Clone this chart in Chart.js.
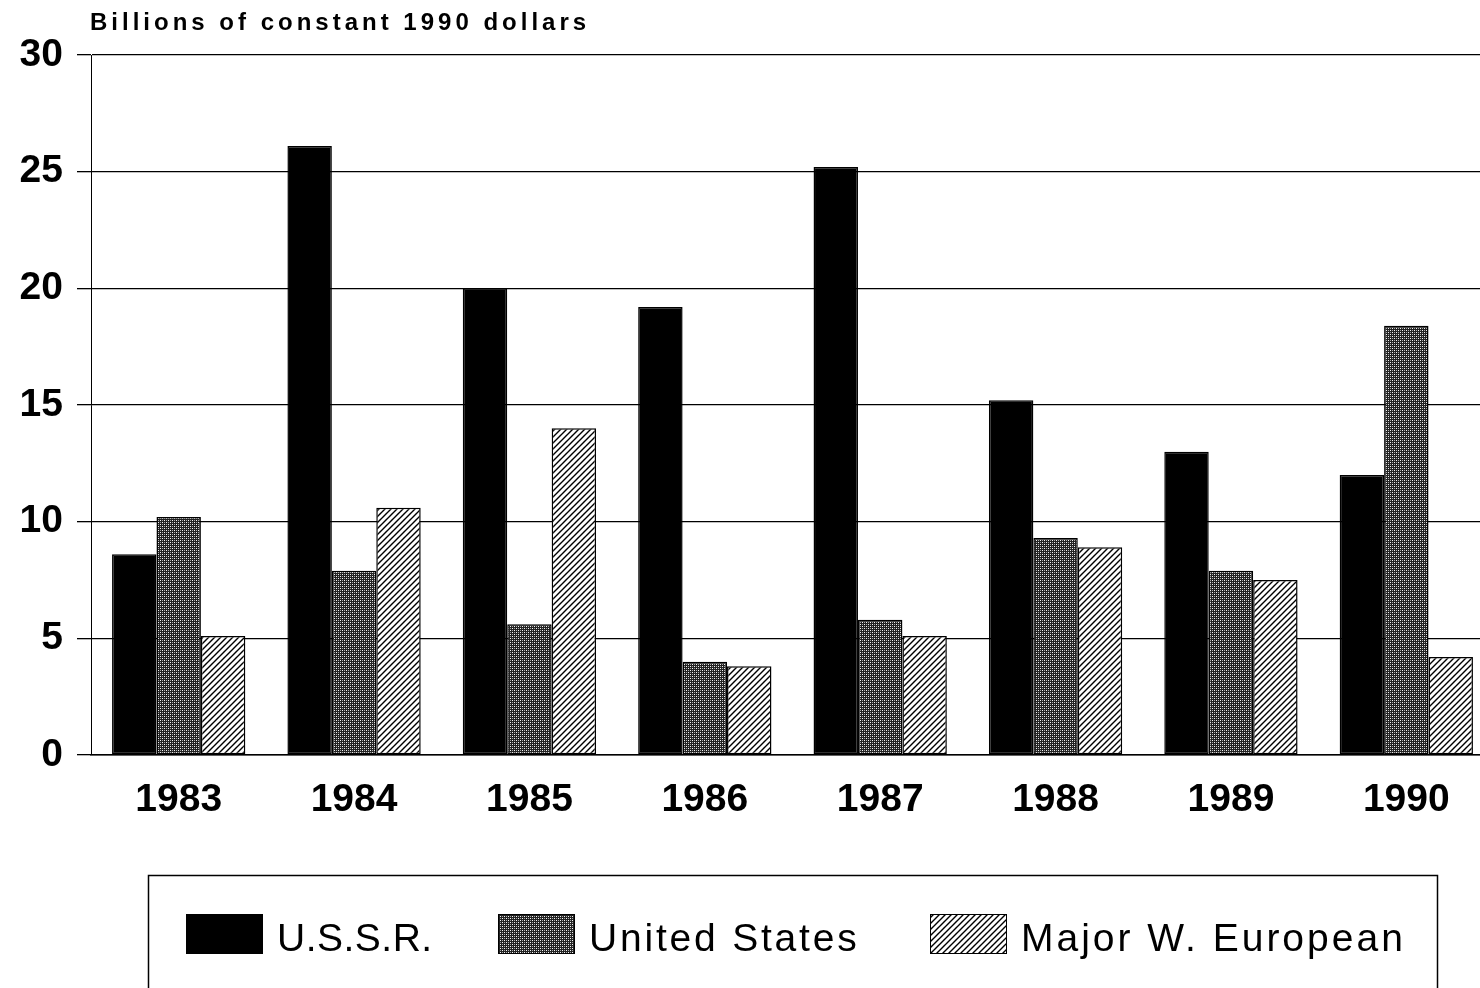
<!DOCTYPE html>
<html>
<head>
<meta charset="utf-8">
<script src="https://cdn.jsdelivr.net/npm/chart.js@4.4.1/dist/chart.umd.min.js"></script>
<style>
  html, body { margin: 0; padding: 0; background: #fff; overflow: hidden; }
  #wrap { width: 1480px; height: 988px; overflow: hidden; }
</style>
</head>
<body>
<div id="wrap"><canvas id="armsChart" width="1494" height="988"></canvas></div>
<script>
// chart data
var years = ['1983', '1984', '1985', '1986', '1987', '1988', '1989', '1990'];
var ussr = [8.6, 26.1, 20.0, 19.2, 25.2, 15.2, 13.0, 12.0];
var unitedStates = [10.2, 7.9, 5.6, 4.0, 5.8, 9.3, 7.9, 18.4];
var westEurope = [5.1, 10.6, 14.0, 3.8, 5.1, 8.9, 7.5, 4.2];
var seriesNames = ['U.S.S.R.', 'United States', 'Major W. European'];
var yTicks = [0, 5, 10, 15, 20, 25, 30];

// dotted fill for the US bars
function dotPattern() {
    var c = document.createElement('canvas');
    c.width = 4; c.height = 4;
    var g = c.getContext('2d');
    g.fillStyle = '#222';
    g.fillRect(0, 0, 4, 4);
    g.fillStyle = '#f4f4f4';
    g.fillRect(0, 0, 1, 1);
    g.fillRect(2, 2, 1, 1);
    g.fillStyle = '#aaa';
    g.fillRect(2, 0, 1, 1);
    g.fillRect(0, 2, 1, 1);
    return g.createPattern(c, 'repeat');
}

// diagonal hatching for Western Europe
function hatchPattern() {
    var s = 6;
    var c = document.createElement('canvas');
    c.width = s; c.height = s;
    var g = c.getContext('2d');
    g.fillStyle = '#fff';
    g.fillRect(0, 0, s, s);
    g.strokeStyle = '#000';
    g.lineWidth = 1.4;
    g.beginPath();
    g.moveTo(0, s); g.lineTo(s, 0);
    g.moveTo(-1, 1); g.lineTo(1, -1);
    g.moveTo(s - 1, s + 1); g.lineTo(s + 1, s - 1);
    g.stroke();
    return g.createPattern(c, 'repeat');
}

var fills = ['#000', dotPattern(), hatchPattern()];

// title above the plot
var titlePlugin = {
    id: 'topTitle',
    afterDraw: function (chart) {
        var ctx = chart.ctx;
        ctx.save();
        ctx.fillStyle = '#000';
        ctx.font = 'bold 24px "Liberation Sans", Arial, sans-serif';
        ctx.letterSpacing = '4px';
        ctx.textBaseline = 'middle';
        ctx.fillText('Billions of constant 1990 dollars', 90, 23);
        ctx.restore();
    }
};

// framed legend under the x labels
var legendBox = {
    id: 'legendBox',
    afterDraw: function (chart) {
        var ctx = chart.ctx;
        var swatchX = [186, 498, 930];
        var spacing = ['0.5px', '2.8px', '3px'];
        ctx.save();
        ctx.strokeStyle = '#000';
        ctx.lineWidth = 1.5;
        ctx.strokeRect(148.5, 875.5, 1289, 140);
        ctx.font = '39px "Liberation Sans", Arial, sans-serif';
        ctx.textBaseline = 'middle';
        chart.data.datasets.forEach(function (ds, i) {
            ctx.fillStyle = ds.backgroundColor;
            ctx.fillRect(swatchX[i], 914, 77, 40);
            ctx.lineWidth = 1;
            ctx.strokeRect(swatchX[i] + 0.5, 914.5, 76, 39);
            ctx.fillStyle = '#000';
            ctx.letterSpacing = spacing[i];
            ctx.fillText(ds.label, swatchX[i] + 91, 940);
        });
        ctx.restore();
    }
};

var ctx = document.getElementById('armsChart').getContext('2d');
var armsChart = new Chart(ctx, {
    type: 'bar',
    data: {
        labels: years,
        datasets: [
            { label: seriesNames[0], data: ussr, backgroundColor: fills[0] },
            { label: seriesNames[1], data: unitedStates, backgroundColor: fills[1] },
            { label: seriesNames[2], data: westEurope, backgroundColor: fills[2] }
        ]
    },
    options: {
        responsive: false,
        animation: false,
        layout: { padding: { top: 55, right: 0, left: 0, bottom: 0 } },
        datasets: {
            bar: {
                categoryPercentage: 0.76,
                barPercentage: 1.0,
                borderColor: '#000',
                borderWidth: 1.5,
                borderSkipped: false
            }
        },
        plugins: {
            legend: { display: false },
            tooltip: { enabled: false }
        },
        scales: {
            x: {
                grid: { display: false, drawTicks: false },
                border: { color: '#000', width: 1.5 },
                ticks: {
                    color: '#000',
                    padding: 22,
                    font: { family: '"Liberation Sans", Arial, sans-serif', size: 39, weight: 'bold' }
                },
                afterFit: function (scale) { scale.height = 233; }
            },
            y: {
                min: 0,
                max: 30,
                afterBuildTicks: function (scale) {
                    scale.ticks = yTicks.map(function (v) { return { value: v }; });
                },
                grid: { color: '#000', lineWidth: 1.3, tickLength: 14 },
                border: { color: '#000', width: 1 },
                ticks: {
                    color: '#000',
                    padding: 14,
                    font: { family: '"Liberation Sans", Arial, sans-serif', size: 39, weight: 'bold' }
                },
                afterFit: function (scale) { scale.width = 91; }
            }
        }
    },
    plugins: [titlePlugin, legendBox]
});
</script>
</body>
</html>
